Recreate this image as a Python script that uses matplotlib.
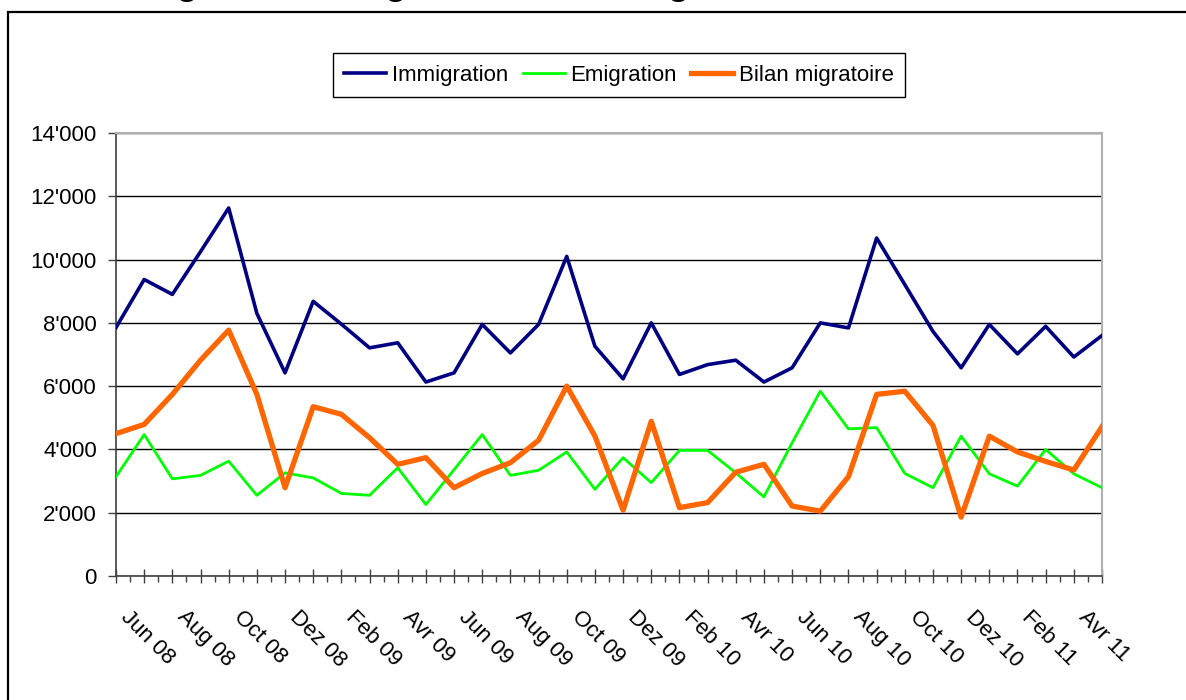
import numpy as np
import matplotlib
matplotlib.use('Agg')
import matplotlib.pyplot as plt
import matplotlib.transforms as mtransforms
from matplotlib.patches import Rectangle

plt.rcParams['font.family'] = ['Liberation Sans', 'DejaVu Sans']

# monthly values, May 08 .. Apr 11
months = ['Mai 08', 'Jun 08', 'Jul 08', 'Aug 08', 'Sep 08', 'Oct 08', 'Nov 08', 'Dez 08',
          'Jan 09', 'Feb 09', 'Mar 09', 'Avr 09', 'Mai 09', 'Jun 09', 'Jul 09', 'Aug 09',
          'Sep 09', 'Oct 09', 'Nov 09', 'Dez 09', 'Jan 10', 'Feb 10', 'Mar 10', 'Avr 10',
          'Mai 10', 'Jun 10', 'Jul 10', 'Aug 10', 'Sep 10', 'Oct 10', 'Nov 10', 'Dez 10',
          'Jan 11', 'Feb 11', 'Mar 11', 'Avr 11']

immigration = [7850, 9370, 8900, 10250, 11630, 8300, 6420, 8680, 7960, 7210, 7370, 6130,
               6420, 7950, 7050, 7950, 10100, 7260, 6230, 8000, 6370, 6680, 6820, 6130,
               6580, 8000, 7840, 10680, 9210, 7730, 6580, 7950, 7020, 7890, 6920, 7600]

emigration = [3140, 4470, 3070, 3180, 3630, 2550, 3260, 3100, 2610, 2550, 3420, 2260,
              3360, 4470, 3180, 3340, 3920, 2740, 3740, 2950, 3970, 3970, 3260, 2500,
              4210, 5840, 4650, 4690, 3240, 2790, 4420, 3230, 2840, 4000, 3230, 2790]

bilan = [4500, 4790, 5740, 6820, 7770, 5740, 2790, 5350, 5110, 4370, 3530, 3740,
         2790, 3240, 3580, 4290, 6000, 4420, 2080, 4890, 2160, 2320, 3280, 3530,
         2210, 2050, 3140, 5740, 5840, 4760, 1860, 4420, 3920, 3620, 3350, 4720]

series_names = ['Immigration', 'Emigration', 'Bilan migratoire']
title = 'Immigration, Emigration, Bilan migratoire'

fig = plt.figure(figsize=(11.86, 7.0), dpi=100)
W, H = 1186.0, 700.0
ax = fig.add_axes([116 / W, 1 - 576 / H, (1102 - 116) / W, (576 - 133) / H])

x = np.arange(len(months))
ax.plot(x, immigration, color='#000080', lw=2.6, label=series_names[0], zorder=3)
ax.plot(x, emigration, color='#00ff00', lw=2.0, label=series_names[1], zorder=3)
ax.plot(x, bilan, color='#ff6600', lw=3.8, label=series_names[2], zorder=3)

ax.set_xlim(0, len(months) - 1)
ax.set_ylim(0, 14000)

ax.tick_params(axis='x', which='major', direction='inout', length=10, width=1,
               color='#404040', pad=17, labelsize=16)
ax.tick_params(axis='x', which='minor', direction='out', length=4.3, width=1, color='#404040')
ax.tick_params(axis='y', which='major', direction='out', length=5.8, width=1,
               color='#404040', pad=8, labelsize=16)

yt = np.arange(0, 14001, 2000)
ax.set_yticks(yt)
ax.set_yticklabels([f'{v:,.0f}'.replace(',', "'") for v in yt])
ax.yaxis.grid(True, color='black', lw=1.0)
ax.set_axisbelow(True)

ax.set_xticks(x)
ax.set_xticks(x[:-1] + 0.5, minor=True)
ax.set_xticklabels([m if i % 2 == 1 else '' for i, m in enumerate(months)],
                   rotation=-45, ha='left', va='top', rotation_mode='anchor')
shift = mtransforms.ScaledTranslation(-13 / 100, 0, fig.dpi_scale_trans)
for lab in ax.get_xticklabels():
    lab.set_transform(lab.get_transform() + shift)
    lab.set_fontsize(16)
for lab in ax.get_yticklabels():
    lab.set_fontsize(16)

for side in ['left', 'bottom']:
    ax.spines[side].set_color('#404040')
    ax.spines[side].set_linewidth(1.2)
for side in ['top', 'right']:
    ax.spines[side].set_color('#b0b0b0')
    ax.spines[side].set_linewidth(1.5)

leg = ax.legend(loc='center', bbox_to_anchor=(619 / W, 1 - 75 / H),
                bbox_transform=fig.transFigure, ncol=3, fontsize=16, frameon=True,
                fancybox=False, handlelength=1.9, handletextpad=0.25,
                columnspacing=0.65, borderpad=0.5)
leg.get_frame().set_edgecolor('black')
leg.get_frame().set_linewidth(1.0)
leg.get_frame().set_alpha(1)

# outer chart frame, cut at right and bottom
fig.patches.append(Rectangle((8 / W, -0.05), 1.1, 1 - 12 / H + 0.05, transform=fig.transFigure,
                             fill=False, edgecolor='black', lw=1.6))

# title sits above the visible area, only its descenders show
fig.text(92 / W, 1 + 6 / H, title, fontsize=26, fontweight='bold', va='baseline', ha='left')

fig.savefig('out.png', dpi=100)
